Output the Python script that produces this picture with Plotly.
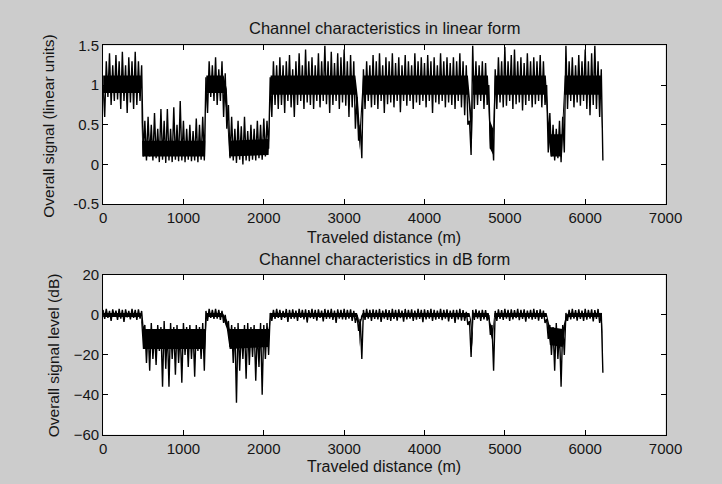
import numpy as np
import plotly.graph_objects as go

# Sample positions (m), one reading every 20 m
distance = np.arange(0, 6240, 20)

# Linear-form signal (alternating peak / trough readings)
linear_signal = [
    1.0, 0.6, 1.3, 0.85, 1.4, 0.75, 1.25, 0.8, 1.38, 0.82,
    1.3, 0.7, 1.42, 0.8, 1.25, 0.65, 1.35, 0.78, 1.3, 0.7,
    1.42, 0.75, 1.3, 0.8, 1.25, 0.1, 0.55, 0.05, 0.6, 0.1,
    0.5, 0.05, 0.65, 0.08, 0.45, 0.03, 0.7, 0.06, 0.55, 0.02,
    0.7, 0.05, 0.45, 0.03, 0.72, 0.06, 0.5, 0.04, 0.8, 0.05,
    0.55, 0.03, 0.45, 0.06, 0.5, 0.04, 0.42, 0.05, 0.58, 0.03,
    0.5, 0.06, 0.6, 0.05, 1.1, 0.65, 1.3, 0.85, 1.25, 0.8,
    1.35, 0.75, 1.2, 0.8, 1.3, 0.6, 1.15, 0.45, 0.75, 0.08,
    0.6, 0.05, 0.45, 0.02, 0.55, 0.06, 0.48, 0.0, 0.6, 0.05,
    0.42, 0.04, 0.5, 0.06, 0.45, 0.05, 0.55, 0.08, 0.5, 0.06,
    0.58, 0.1, 0.55, 0.2, 1.1, 0.6, 1.3, 0.75, 1.25, 0.7,
    1.35, 0.75, 1.25, 0.65, 1.3, 0.8, 1.38, 0.72, 1.2, 0.6,
    1.3, 0.75, 1.4, 0.8, 1.25, 0.7, 1.45, 0.78, 1.3, 0.75,
    1.35, 0.7, 1.25, 0.8, 1.4, 0.72, 1.3, 0.8, 1.5, 0.76,
    1.3, 0.65, 1.42, 0.75, 1.28, 0.8, 1.4, 0.7, 1.35, 0.78,
    1.45, 0.74, 1.3, 0.6, 1.38, 0.72, 1.3, 0.45, 0.85, 0.3,
    0.5, 0.08, 1.2, 0.7, 1.3, 0.8, 1.25, 0.72, 1.38, 0.75,
    1.3, 0.7, 1.4, 0.8, 1.25, 0.65, 1.35, 0.76, 1.3, 0.78,
    1.4, 0.72, 1.28, 0.8, 1.35, 0.66, 1.25, 0.8, 1.38, 0.74,
    1.3, 0.8, 1.25, 0.7, 1.4, 0.78, 1.3, 0.75, 1.35, 0.8,
    1.28, 0.72, 1.38, 0.8, 1.3, 0.65, 1.35, 0.78, 1.25, 0.76,
    1.4, 0.8, 1.3, 0.72, 1.35, 0.78, 1.28, 0.75, 1.35, 0.7,
    1.3, 0.8, 1.4, 0.72, 1.3, 0.62, 1.25, 0.5, 0.55, 0.12,
    1.5, 0.7, 1.3, 0.75, 1.25, 0.8, 1.3, 0.7, 1.28, 0.75,
    1.0, 0.2, 0.45, 0.05, 1.2, 0.7, 1.35, 0.78, 1.3, 0.72,
    1.48, 0.74, 1.3, 0.8, 1.38, 0.7, 1.45, 0.76, 1.3, 0.78,
    1.35, 0.68, 1.28, 0.75, 1.4, 0.8, 1.3, 0.72, 1.35, 0.76,
    1.3, 0.8, 1.38, 0.72, 1.3, 0.75, 1.0, 0.15, 0.65, 0.1,
    0.5, 0.05, 0.45, 0.08, 0.55, 0.03, 0.6, 0.15, 1.5, 0.7,
    1.3, 0.8, 1.35, 0.72, 1.25, 0.78, 1.38, 0.74, 1.3, 0.8,
    1.45, 0.7, 1.3, 0.62, 1.4, 0.75, 1.5, 0.7, 1.3, 0.6,
    1.2, 0.05,
]

# dB-form signal
db_signal = [
    2.5, -2, 3, -1.5, 2, -3, 2.8, -1, 2.2, -2.5,
    3, -1.8, 2.5, -3.5, 2.8, -1.2, 2, -2.2, 3, -1.5,
    2.5, -2.5, 2.8, -1.8, 2, -8, -5, -24, -7, -28,
    -4, -22, -8, -25, -5, -18, -6, -36, -3, -27,
    -7, -36, -4, -22, -6, -30, -5, -24, -8, -34,
    -4, -20, -6, -26, -5, -22, -7, -31, -5, -18,
    -6, -22, -4, -28, 2, -3, 3, -1.5, 2.5, -2,
    3, -1.8, 2.5, -2.5, 2, -4, 0, -6, -3, -16,
    -5, -24, -6, -44, -4, -28, -7, -22, -5, -32,
    -4, -25, -6, -21, -5, -33, -7, -26, -4, -40,
    -5, -22, -4, -20, 1, -3, 2.5, -2, 3, -1.5,
    2.5, -2.5, 2, -1.5, 3, -3.5, 2.5, -2, 2.8, -1.8,
    2.2, -3, 3, -1.5, 2.5, -2.2, 2.8, -3.8, 2.4, -1.6,
    3, -2, 2.5, -2.8, 2.8, -1.5, 2.2, -3.2, 3, -2,
    2.5, -1.8, 3, -2.5, 2.2, -4, 2.8, -1.8, 2.5, -2.2,
    3, -2.4, 2.5, -1.8, 2.8, -3, 2, -4, 0, -8,
    -2, -22, 2.5, -2.5, 3, -1.8, 2.5, -3, 2.8, -2,
    2.5, -2.2, 3, -3.5, 2.2, -1.8, 2.8, -2.5, 2.4, -3,
    3, -2, 2.5, -2.8, 2.8, -1.6, 2.2, -3.4, 3, -2.2,
    2.5, -1.8, 2.8, -3, 2.2, -2.4, 3, -2, 2.5, -3.6,
    2.8, -2.2, 2.4, -1.8, 3, -3, 2.5, -2.4, 2.2, -2,
    3, -2.6, 2.5, -1.8, 2.8, -3.2, 2.2, -2, 2.6, -4,
    2.5, -2.2, 3, -2.8, 2.4, -3, 1.5, -5, -3, -21,
    2.5, -2.5, 2.8, -1.8, 2.2, -3, 2.6, -2.2, 2.4, -2.8,
    0, -10, -5, -28, 2, -3, 2.8, -2, 2.4, -2.5,
    3, -1.8, 2.5, -3, 2.8, -2.2, 2.4, -1.6, 3, -2.6,
    2.5, -2, 2.8, -3.4, 2.2, -1.8, 2.6, -2.4, 3, -2,
    2.4, -2.8, 2.8, -2, 2.2, -4, -2, -12, -5, -20,
    -6, -28, -4, -22, -8, -36, -5, -20, 1, -3,
    2.5, -2.2, 3, -1.8, 2.4, -2.8, 2.8, -2, 2.2, -3,
    3, -2.4, 2.5, -1.8, 2.8, -3.2, 2.4, -2, 3, -4,
    1, -29,
]

# Dense core of the linear-form trace (where the noise is solid black)
lin_core_x = [0, 470, 490, 1270, 1285, 1500, 1540, 1570, 2060, 2085, 3140, 3170, 3195,
              3215, 3235, 4540, 4570, 4590, 4605, 4790, 4815, 4855, 4875, 5510, 5545,
              5570, 5710, 5745, 6195, 6210, 6220]
lin_core_hi = [1.12, 1.12, 0.3, 0.3, 1.12, 1.12, 0.95, 0.3, 0.32, 1.12, 1.12, 0.85, 0.45,
               0.85, 1.12, 1.12, 0.75, 0.55, 1.12, 1.12, 0.55, 0.45, 1.12, 1.12, 0.55,
               0.38, 0.38, 1.12, 1.12, 0.55, 0.2]
lin_core_lo = [0.9, 0.9, 0.1, 0.1, 0.9, 0.9, 0.65, 0.1, 0.12, 0.88, 0.88, 0.55, 0.18,
               0.55, 0.88, 0.88, 0.55, 0.25, 0.88, 0.88, 0.2, 0.12, 0.88, 0.88, 0.32,
               0.1, 0.1, 0.88, 0.88, 0.32, 0.12]

# Dense core of the dB-form trace
db_core_x = [0, 470, 495, 1270, 1290, 1490, 1540, 1575, 2060, 2085, 3160, 3180, 3195,
             3210, 3230, 4560, 4580, 4595, 4610, 4800, 4820, 4850, 4870, 5520, 5560,
             5720, 5760, 5790, 6195, 6210, 6220]
db_core_hi = [1, 1, -7, -7, 1, 1, -2.5, -7, -7, 1, 1, -1.5, -6,
              -0.5, 1, 1, -2.5, -9, 1, 1, -4, -7, 1, 1, -6,
              -7, -0.5, 1, 1, -4, -15]
db_core_lo = [-1, -1, -17, -17, -1, -1, -7, -17, -16, -1, -1, -4.5, -16,
              -3.5, -1, -1, -7, -16, -1, -1, -9, -14, -1, -1, -15,
              -16, -3.5, -1, -1, -9, -26]

x_ticks = [0, 1000, 2000, 3000, 4000, 5000, 6000, 7000]
lin_ticks = [-0.5, 0, 0.5, 1, 1.5]
lin_labels = ["-0.5", "0", "0.5", "1", "1.5"]
db_ticks = [-60, -40, -20, 0, 20]

W, H = 722, 484
FONT = "Liberation Sans, Arial, sans-serif"
TXT = "#151515"

# layout positions (px in the target picture), corrected for the rendering offset
def fx(px):
    return ((px - 2.3) / 0.977) / W

def fy(py):
    return 1 - ((py - 7.47) / 0.9667) / H

fig = go.Figure()

def add_core(xs, hi, lo, xa, ya):
    fig.add_trace(go.Scatter(x=xs, y=hi, mode="lines", line=dict(width=0, color="black"),
                             xaxis=xa, yaxis=ya, showlegend=False, hoverinfo="skip"))
    fig.add_trace(go.Scatter(x=xs, y=lo, mode="lines", line=dict(width=0, color="black"),
                             fill="tonexty", fillcolor="black",
                             xaxis=xa, yaxis=ya, showlegend=False, hoverinfo="skip"))

add_core(lin_core_x, lin_core_hi, lin_core_lo, "x", "y")
fig.add_trace(go.Scatter(x=distance, y=linear_signal, mode="lines",
                         line=dict(color="black", width=1.4), xaxis="x", yaxis="y",
                         showlegend=False, hoverinfo="skip"))
add_core(db_core_x, db_core_hi, db_core_lo, "x2", "y2")
fig.add_trace(go.Scatter(x=distance, y=db_signal, mode="lines",
                         line=dict(color="black", width=1.4), xaxis="x2", yaxis="y2",
                         showlegend=False, hoverinfo="skip"))

xd = [fx(102), fx(668)]
axis_common = dict(showline=True, linecolor="black", linewidth=1, mirror="ticks",
                   ticks="inside", ticklen=5, tickcolor="black", showgrid=False,
                   zeroline=False, tickfont=dict(family=FONT, size=15, color=TXT))

fig.update_layout(
    autosize=True,
    margin=dict(l=0, r=0, t=0, b=0),
    paper_bgcolor="#cccccc", plot_bgcolor="white",
    xaxis=dict(domain=xd, anchor="y", range=[0, 7000], tickvals=x_ticks, **axis_common),
    yaxis=dict(domain=[fy(203), fy(44)], anchor="x", range=[-0.5, 1.5],
               tickvals=lin_ticks, ticktext=lin_labels, **axis_common),
    xaxis2=dict(domain=xd, anchor="y2", range=[0, 7000], tickvals=x_ticks, **axis_common),
    yaxis2=dict(domain=[fy(434), fy(274)], anchor="x2", range=[-60, 20],
                tickvals=db_ticks, **axis_common),
)

def ann(text, x, y, size, angle=0):
    fig.add_annotation(text=text, x=fx(x), y=fy(y), xref="paper", yref="paper",
                       showarrow=False, textangle=angle, xanchor="center", yanchor="middle",
                       font=dict(family=FONT, size=size, color=TXT))

ann("Channel characteristics in linear form", 385, 27, 16.5)
ann("Traveled distance (m)", 385, 236, 16)
ann("Channel characteristics in dB form", 385, 258, 16.5)
ann("Traveled distance (m)", 385, 466, 16)
ann("Overall signal (linear units)", 47, 124, 15.5, -90)
ann("Overall signal level (dB)", 52, 354, 15.5, -90)

fig.write_html(
    "out.html",
    config={"displayModeBar": False, "responsive": True},
    default_width="100vw", default_height="100vh",
    post_script=("document.documentElement.style.margin='0';"
                 "document.body.style.margin='0';document.body.style.overflow='hidden';"
                 "Plotly.Plots.resize(document.getElementById('{plot_id}'));"),
)
